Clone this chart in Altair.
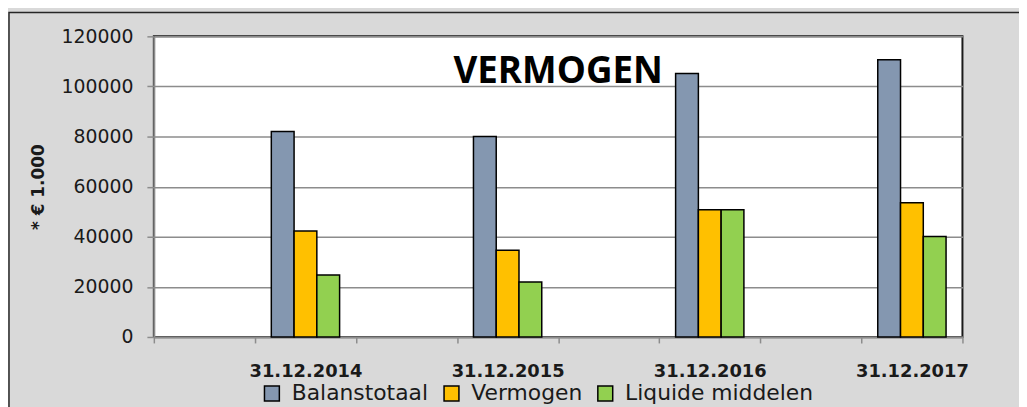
import altair as alt
import pandas as pd

# ---- data ----
dates = ["31.12.2014", "31.12.2015", "31.12.2016", "31.12.2017"]
series = ["Balanstotaal", "Vermogen", "Liquide middelen"]
balanstotaal = [82000, 80000, 105200, 110700]
vermogen = [42300, 34600, 50800, 53600]
liquide = [24700, 21900, 50800, 40100]
colors = ["#8497B0", "#FFC000", "#92D050"]

# category axis: empty (blank-labelled) slots between the dates, as in the sheet
domain = []
for i, d in enumerate(dates):
    domain.append(" " * (i + 1))
    domain.append(d)

rows = []
for i, d in enumerate(dates):
    for s, v in zip(series, [balanstotaal[i], vermogen[i], liquide[i]]):
        rows.append({"datum": d, "serie": s, "waarde": v})
df = pd.DataFrame(rows)

W, H = 815, 303
PAD_L, PAD_T, PAD_R, PAD_B = 147, 27, 57, 69

x_enc = alt.X(
    "datum:N",
    scale=alt.Scale(domain=domain, paddingInner=0, paddingOuter=0),
    axis=alt.Axis(
        title=None,
        labelAngle=0,
        labelFont="DejaVu Sans",
        labelFontWeight="bold",
        labelFontSize=18,
        labelColor="#1a1a1a",
        labelPadding=20,
        tickBand="extent",
        tickSize=6,
        tickColor="#8c8c8c",
        tickWidth=1.5,
        domainColor="#8c8c8c",
        domainWidth=2,
        grid=False,
    ),
)
xoff_enc = alt.XOffset(
    "serie:N",
    sort=series,
    scale=alt.Scale(domain=series, paddingInner=0, paddingOuter=0.72),
)
y_enc = alt.Y(
    "waarde:Q",
    scale=alt.Scale(domain=[0, 120000], nice=False),
    axis=alt.Axis(
        title="* € 1.000",
        titleFont="DejaVu Sans",
        titleFontWeight="bold",
        titleFontSize=17,
        titleColor="#1a1a1a",
        titlePadding=14,
        values=[0, 20000, 40000, 60000, 80000, 100000, 120000],
        format="d",
        labelFont="DejaVu Sans",
        labelFontSize=19,
        labelColor="#1a1a1a",
        labelPadding=14,
        tickSize=7,
        tickColor="#8c8c8c",
        tickWidth=1.5,
        domainColor="#8c8c8c",
        domainWidth=2,
        grid=True,
        gridColor="#8c8c8c",
        gridWidth=1.5,
    ),
)

bars = alt.Chart(df).mark_bar(stroke="#000000", strokeWidth=1.5).encode(
    x=x_enc,
    xOffset=xoff_enc,
    y=y_enc,
    color=alt.Color(
        "serie:N",
        scale=alt.Scale(domain=series, range=colors),
        legend=alt.Legend(
            title=None,
            orient="none",
            legendX=108,
            legendY=349,
            direction="horizontal",
            padding=0,
            symbolType="square",
            symbolSize=225,
            symbolStrokeColor="#000000",
            symbolStrokeWidth=1.5,
            labelFont="DejaVu Sans",
            labelFontSize=22,
            labelColor="#1a1a1a",
            labelOffset=9,
            columnPadding=12,
            labelLimit=400,
        ),
    ),
)

title = alt.Chart(alt.Data(values=[{"t": "VERMOGEN"}])).mark_text(
    font="Open Sans",
    fontWeight="bold",
    fontSize=37,
    color="#000000",
    align="center",
    baseline="alphabetic",
).encode(text="t:N", x=alt.value(W / 2), y=alt.value(47))

frame = alt.Chart(alt.Data(values=[{"a": 1}])).mark_rect(
    fill="transparent", stroke="#262626", strokeWidth=1.5
).encode(
    x=alt.value(-PAD_L + 1), y=alt.value(-PAD_T + 3),
    x2=alt.value(W + PAD_R + 20), y2=alt.value(H + PAD_B + 20),
)

chart = (
    alt.layer(bars, title, frame)
    .properties(
        width=W,
        height=H,
        autosize=alt.AutoSizeParams(type="none"),
        padding={"left": PAD_L, "top": PAD_T, "right": PAD_R, "bottom": PAD_B},
        background="#D9D9D9",
    )
    .configure_view(fill="#FFFFFF", stroke="#1a1a1a", strokeWidth=2)
)

chart.save("out.html", embed_options={"renderer": "svg", "actions": False})
